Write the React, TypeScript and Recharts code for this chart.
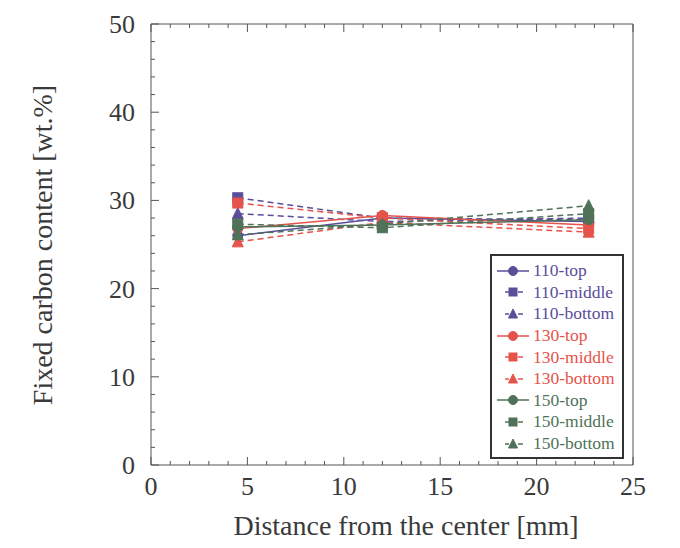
import React from "react";
import { LineChart, Line, XAxis, YAxis } from "recharts";

const xPositions = [4.5, 12, 22.7];
const s110top = [26.0, 28.0, 27.6];
const s110middle = [30.3, 28.0, 27.8];
const s110bottom = [28.5, 27.6, 28.0];
const s130top = [26.8, 28.3, 27.2];
const s130middle = [29.7, 28.0, 26.8];
const s130bottom = [25.3, 27.5, 26.4];
const s150top = [27.0, 27.2, 27.8];
const s150middle = [27.3, 26.9, 28.5];
const s150bottom = [26.1, 27.3, 29.4];

const xTicks = Array.from({ length: 26 }, (_, i) => i);
const yTicks = Array.from({ length: 26 }, (_, i) => i * 2);

const BLUE = "#5a4e9a";
const RED = "#e5534b";
const GREEN = "#4f7258";
const AXIS = "#555";
const TEXT = "#3a3a3a";
const FONT = "'Liberation Serif', 'Times New Roman', serif";

type SeriesDef = { key: string; name: string; color: string; shape: "circle" | "square" | "triangle"; dashed: boolean; values: number[] };

const series: SeriesDef[] = [
  { key: "a", name: "110-top", color: BLUE, shape: "circle", dashed: false, values: s110top },
  { key: "b", name: "110-middle", color: BLUE, shape: "square", dashed: true, values: s110middle },
  { key: "c", name: "110-bottom", color: BLUE, shape: "triangle", dashed: true, values: s110bottom },
  { key: "d", name: "130-top", color: RED, shape: "circle", dashed: false, values: s130top },
  { key: "e", name: "130-middle", color: RED, shape: "square", dashed: true, values: s130middle },
  { key: "f", name: "130-bottom", color: RED, shape: "triangle", dashed: true, values: s130bottom },
  { key: "g", name: "150-top", color: GREEN, shape: "circle", dashed: false, values: s150top },
  { key: "h", name: "150-middle", color: GREEN, shape: "square", dashed: true, values: s150middle },
  { key: "i", name: "150-bottom", color: GREEN, shape: "triangle", dashed: true, values: s150bottom },
];

const data = xPositions.map((x, i) => {
  const row: Record<string, number> = { x };
  series.forEach((s) => (row[s.key] = s.values[i]));
  return row;
});

function MarkerShape({ cx, cy, shape, color, size = 10 }: any) {
  if (cx == null || cy == null) return null;
  const h = size / 2;
  if (shape === "circle") return <circle cx={cx} cy={cy} r={h} fill={color} stroke={color} />;
  if (shape === "square") return <rect x={cx - h} y={cy - h} width={size} height={size} fill={color} stroke={color} />;
  return <polygon points={`${cx},${cy - h - 1} ${cx + h + 0.5},${cy + h} ${cx - h - 0.5},${cy + h}`} fill={color} stroke={color} />;
}

const XTickBottom = (props: any) => {
  const { x, y, payload } = props;
  const major = payload.value % 5 === 0;
  return (
    <g>
      <line x1={x} x2={x} y1={y} y2={y - (major ? 8 : 4)} stroke={AXIS} strokeWidth={1} />
      {major && (
        <text x={x} y={y + 30} textAnchor="middle" fontSize={26} fontFamily={FONT} fill={TEXT}>
          {payload.value}
        </text>
      )}
    </g>
  );
};
const XTickTop = (props: any) => {
  const { x, y, payload } = props;
  const major = payload.value % 5 === 0;
  return <line x1={x} x2={x} y1={y} y2={y + (major ? 8 : 4)} stroke={AXIS} strokeWidth={1} />;
};
const YTickLeft = (props: any) => {
  const { x, y, payload } = props;
  const major = payload.value % 10 === 0;
  return (
    <g>
      <line x1={x} x2={x + (major ? 8 : 4)} y1={y} y2={y} stroke={AXIS} strokeWidth={1} />
      {major && (
        <text x={x - 16} y={y + 9} textAnchor="end" fontSize={26} fontFamily={FONT} fill={TEXT}>
          {payload.value}
        </text>
      )}
    </g>
  );
};
const YTickRight = (props: any) => {
  const { x, y, payload } = props;
  const major = payload.value % 10 === 0;
  return <line x1={x} x2={x - (major ? 8 : 4)} y1={y} y2={y} stroke={AXIS} strokeWidth={1} />;
};

const LegendBox = () => (
  <div
    style={{
      position: "absolute",
      left: 490,
      top: 254,
      width: 134,
      height: 205,
      border: "2px solid #333",
      background: "#fff",
      padding: "4px 0 0 3px",
      fontFamily: FONT,
      fontSize: 17.5,
      boxSizing: "border-box",
    }}
  >
    {series.map((s) => (
      <div key={s.key} style={{ display: "flex", alignItems: "center", height: 21.6, color: s.color, whiteSpace: "nowrap" }}>
        <svg width={38} height={14} style={{ flex: "none" }}>
          {s.dashed ? (
            <>
              <line x1={10} x2={14} y1={7} y2={7} stroke={s.color} strokeWidth={1.5} />
              <line x1={23} x2={28} y1={7} y2={7} stroke={s.color} strokeWidth={1.5} />
            </>
          ) : (
            <line x1={2} x2={34} y1={7} y2={7} stroke={s.color} strokeWidth={1.5} />
          )}
          <MarkerShape cx={18} cy={7} shape={s.shape} color={s.color} size={s.shape === "circle" ? 9 : 8} />
        </svg>
        <span>{s.name}</span>
      </div>
    ))}
  </div>
);

export default function App() {
  return (
    <div style={{ position: "absolute", left: 0, top: 0, width: 680, height: 548, background: "#fff" }}>
      <LineChart width={680} height={548} data={data} margin={{ top: 23, right: 46, bottom: 0, left: 0 }}>
        <XAxis
          xAxisId="bottom"
          type="number"
          dataKey="x"
          domain={[0, 25]}
          ticks={xTicks}
          interval={0}
          tick={<XTickBottom />}
          tickLine={false}
          tickSize={0}
          tickMargin={0}
          height={83}
          stroke={AXIS}
          label={{
            content: () => (
              <text x={406} y={535} textAnchor="middle" fontSize={28} fontFamily={FONT} fill={TEXT}>
                Distance from the center [mm]
              </text>
            ),
          }}
        />
        <XAxis
          xAxisId="top"
          orientation="top"
          type="number"
          dataKey="x"
          domain={[0, 25]}
          ticks={xTicks}
          interval={0}
          tick={<XTickTop />}
          tickLine={false}
          tickSize={0}
          tickMargin={0}
          height={1}
          stroke={AXIS}
        />
        <YAxis
          yAxisId="left"
          type="number"
          domain={[0, 50]}
          ticks={yTicks}
          interval={0}
          tick={<YTickLeft />}
          tickLine={false}
          tickSize={0}
          tickMargin={0}
          width={151}
          stroke={AXIS}
          label={{
            content: () => (
              <text
                x={42}
                y={245}
                textAnchor="middle"
                dominantBaseline="central"
                transform="rotate(-90 42 245)"
                fontSize={28}
                fontFamily={FONT}
                fill={TEXT}
              >
                Fixed carbon content [wt.%]
              </text>
            ),
          }}
        />
        <YAxis
          yAxisId="right"
          orientation="right"
          type="number"
          domain={[0, 50]}
          ticks={yTicks}
          interval={0}
          tick={<YTickRight />}
          tickLine={false}
          tickSize={0}
          tickMargin={0}
          width={1}
          stroke={AXIS}
        />
        {series.map((s) => (
          <Line
            key={s.key}
            xAxisId="bottom"
            yAxisId="left"
            dataKey={s.key}
            name={s.name}
            stroke={s.color}
            strokeWidth={1.5}
            strokeDasharray={s.dashed ? "6 4" : undefined}
            isAnimationActive={false}
            dot={(p: any) => <MarkerShape key={`${s.key}-${p.index}`} cx={p.cx} cy={p.cy} shape={s.shape} color={s.color} />}
            activeDot={false}
          />
        ))}
      </LineChart>
      <LegendBox />
    </div>
  );
}
